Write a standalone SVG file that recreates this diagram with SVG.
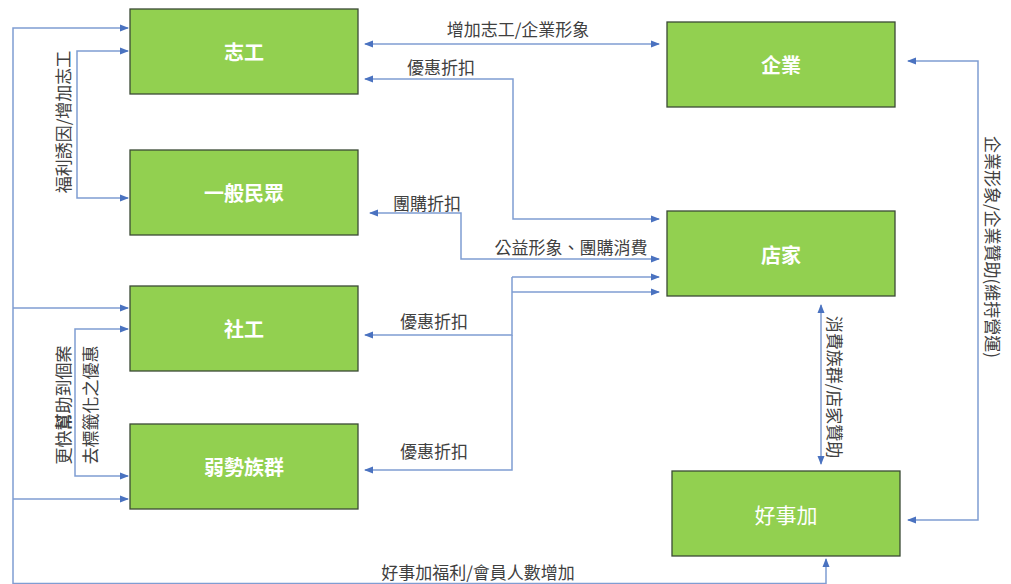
<svg xmlns="http://www.w3.org/2000/svg" width="1011" height="584" viewBox="0 0 1011 584">
<defs>
<marker id="ah" markerWidth="9" markerHeight="8" refX="8" refY="4" orient="auto-start-reverse" markerUnits="userSpaceOnUse">
<path d="M0,0.5 L9,4 L0,7.5 Z" fill="#4a72c0"/>
</marker>
<style>
.box{fill:#92d050;stroke:#3b4a35;stroke-width:1.3}
.nt{font-family:"Noto Sans CJK TC","Noto Sans CJK SC",sans-serif;font-size:20px;font-weight:bold;fill:#ffffff;text-anchor:middle;dominant-baseline:central}
.nl{font-weight:normal;font-size:21px}
.ln{fill:none;stroke:#7f9dd2;stroke-width:1.5}
.ar{marker-end:url(#ah)}
.ar2{marker-start:url(#ah);marker-end:url(#ah)}
.lb{font-family:"Noto Sans CJK TC","Noto Sans CJK SC",sans-serif;font-size:17px;fill:#404040;text-anchor:middle;dominant-baseline:central}
</style>
</defs>
<rect width="1011" height="584" fill="#ffffff"/>
<g id="connectors">
<path class="ln ar" d="M13,584 L13,28 L128,28"/>
<path class="ln ar" d="M13,308 L128,308"/>
<path class="ln ar" d="M13,499 L128,499"/>
<path class="ln ar" d="M13,583.5 L826,583.5 L826,559"/>
<path class="ln ar2" d="M128,51 L77,51 L77,198 L128,198"/>
<path class="ln ar2" d="M128,329 L75,329 L75,476 L128,476"/>
<path class="ln ar2" d="M365,44 L659,44"/>
<path class="ln ar2" d="M659,219 L513,219 L513,79 L365,79"/>
<path class="ln ar2" d="M370,213 L461,213 L461,259 L659,259"/>
<path class="ln ar" d="M512,277 L659,277"/>
<path class="ln ar" d="M512,292 L659,292"/>
<path class="ln ar" d="M512,277 L512,335 L365,335"/>
<path class="ln ar" d="M512,335 L512,470 L365,470"/>
<path class="ln ar2" d="M821,305 L821,464"/>
<path class="ln ar2" d="M908,61 L978,61 L978,520 L908,520"/>
</g>
<g id="labels">
<text class="lb" x="518" y="28">增加志工/企業形象</text>
<text class="lb" x="441" y="66">優惠折扣</text>
<text class="lb" x="427" y="202">團購折扣</text>
<text class="lb" x="571" y="246">公益形象、團購消費</text>
<text class="lb" x="434" y="320">優惠折扣</text>
<text class="lb" x="434" y="450">優惠折扣</text>
<text class="lb" x="478" y="571">好事加福利/會員人數增加</text>
<text class="lb" transform="translate(62,122) rotate(-90)">福利誘因/增加志工</text>
<text class="lb" transform="translate(62,405) rotate(-90)">更快<tspan font-weight="bold">幫</tspan>助到個案</text>
<text class="lb" transform="translate(89,405) rotate(-90)">去標籤化之優惠</text>
<text class="lb" transform="translate(835,387) rotate(90)">消費族群/店家贊助</text>
<text class="lb" transform="translate(993,247) rotate(90)">企業形象/企業贊助(維持營運)</text>
</g>
<g id="node-zhigong"><rect class="box" x="130" y="9" width="228" height="85"/><text class="nt" x="244" y="51">志工</text></g>
<g id="node-minzhong"><rect class="box" x="130" y="150" width="228" height="85"/><text class="nt" x="244" y="192">一般民眾</text></g>
<g id="node-shegong"><rect class="box" x="130" y="286" width="228" height="85"/><text class="nt" x="244" y="328">社工</text></g>
<g id="node-ruoshi"><rect class="box" x="130" y="424" width="228" height="85"/><text class="nt" x="244" y="466">弱勢族群</text></g>
<g id="node-qiye"><rect class="box" x="667" y="22" width="228" height="85"/><text class="nt" x="781" y="64">企業</text></g>
<g id="node-dianjia"><rect class="box" x="667" y="211" width="228" height="85"/><text class="nt" x="781" y="254">店家</text></g>
<g id="node-haoshijia"><rect class="box" x="672" y="471" width="228" height="85"/><text class="nt nl" x="786" y="514">好事加</text></g>
</svg>
